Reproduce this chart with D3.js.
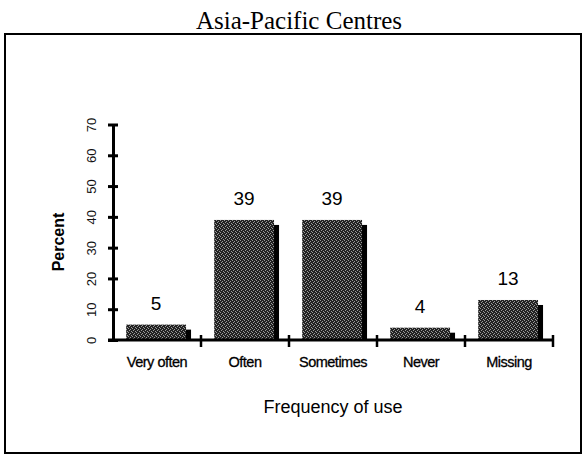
<!DOCTYPE html>
<html><head><meta charset="utf-8">
<script src="https://cdn.jsdelivr.net/npm/d3@7"></script>
<style>html,body{margin:0;padding:0;background:#fff;}svg{display:block;}</style>
</head><body>
<svg id="chart" width="587" height="457"></svg>
<script>
const categories = ["Very often", "Often", "Sometimes", "Never", "Missing"];
const values = [5, 39, 39, 4, 13];
const yTicks = [0, 10, 20, 30, 40, 50, 60, 70];
const title = "Asia-Pacific Centres";
const xTitle = "Frequency of use";
const yTitle = "Percent";

const svg = d3.select("#chart");
const defs = svg.append("defs");
const pat = defs.append("pattern").attr("id", "stip").attr("patternUnits", "userSpaceOnUse")
  .attr("width", 4).attr("height", 4);
pat.append("rect").attr("width", 4).attr("height", 4).attr("fill", "#222");
[[0,0],[2,1],[1,2],[3,3]].forEach(([a,b]) => pat.append("rect").attr("x", a).attr("y", b)
  .attr("width", 1).attr("height", 1).attr("fill", "#9a9a9a"));

// frame
svg.append("rect").attr("x", 5).attr("y", 34).attr("width", 576).attr("height", 419)
  .attr("fill", "none").attr("stroke", "#000").attr("stroke-width", 2);

svg.append("text").attr("x", 299).attr("y", 29).attr("text-anchor", "middle")
  .attr("font-family", "Liberation Serif, Times New Roman, serif").attr("font-size", 25)
  .attr("fill", "#000").text(title);

const x = d3.scaleBand().domain(categories).range([113, 553]).padding(0);
const y = d3.scaleLinear().domain([0, 70]).range([340, 124.5]);
const bw = x.bandwidth();
const off = 5;

const g = svg.append("g");
// shadows
g.selectAll("rect.sh").data(values).join("rect").attr("class", "sh")
  .attr("x", (d, i) => x(categories[i]) + bw * 0.15 + off)
  .attr("y", d => y(d) + off)
  .attr("width", bw * 0.68)
  .attr("height", d => Math.max(0, y(0) - y(d) - off))
  .attr("fill", "#000");
// faces
g.selectAll("rect.face").data(values).join("rect").attr("class", "face")
  .attr("x", (d, i) => x(categories[i]) + bw * 0.15)
  .attr("y", d => y(d))
  .attr("width", bw * 0.68)
  .attr("height", d => y(0) - y(d))
  .attr("fill", "url(#stip)");
// value labels
g.selectAll("text.val").data(values).join("text").attr("class", "val")
  .attr("x", (d, i) => x(categories[i]) + bw * 0.15 + bw * 0.34)
  .attr("y", d => y(d) - 15)
  .attr("text-anchor", "middle")
  .attr("font-family", "Liberation Sans, Arial, sans-serif").attr("font-size", 19)
  .attr("fill", "#000").text(d => d);

// y axis
const yAxis = svg.append("g").attr("transform", "translate(113,0)")
  .call(d3.axisLeft(y).tickValues(yTicks).tickSize(0).tickFormat(""));
yAxis.select(".domain").attr("stroke", "#000").attr("stroke-width", 3);
yAxis.selectAll(".tick").append("line").attr("x1", -5).attr("x2", 5)
  .attr("stroke", "#000").attr("stroke-width", 3);
yAxis.selectAll(".tick").append("text").attr("transform", "translate(-22,0) rotate(-90)")
  .attr("text-anchor", "middle").attr("dy", "0.35em")
  .attr("font-family", "Liberation Sans, Arial, sans-serif").attr("font-size", 13)
  .attr("fill", "#111").text(d => d);

// x axis
const xAxis = svg.append("g").attr("transform", "translate(0,340)")
  .call(d3.axisBottom(x).tickSize(0).tickFormat(""));
xAxis.select(".domain").attr("stroke", "#000").attr("stroke-width", 3).attr("d", "M108,0H553");
xAxis.selectAll(".tick").append("line")
  .attr("x1", bw / 2).attr("x2", bw / 2).attr("y1", -5).attr("y2", 7)
  .attr("stroke", "#000").attr("stroke-width", 2.5);
xAxis.selectAll(".tick").append("text").attr("y", 27).attr("text-anchor", "middle")
  .attr("font-family", "Liberation Sans, Arial, sans-serif").attr("font-size", 14.5)
  .attr("letter-spacing", -0.5).attr("stroke", "#000").attr("stroke-width", 0.3)
  .attr("fill", "#000").text(d => d);

svg.append("text").attr("x", 333).attr("y", 413).attr("text-anchor", "middle")
  .attr("font-family", "Liberation Sans, Arial, sans-serif").attr("font-size", 18)
  .attr("fill", "#000").text(xTitle);

svg.append("text").attr("transform", "translate(64,242) rotate(-90)").attr("text-anchor", "middle")
  .attr("font-family", "Liberation Sans, Arial, sans-serif").attr("font-size", 16).attr("font-weight", "bold")
  .attr("fill", "#000").text(yTitle);
</script>
</body></html>
